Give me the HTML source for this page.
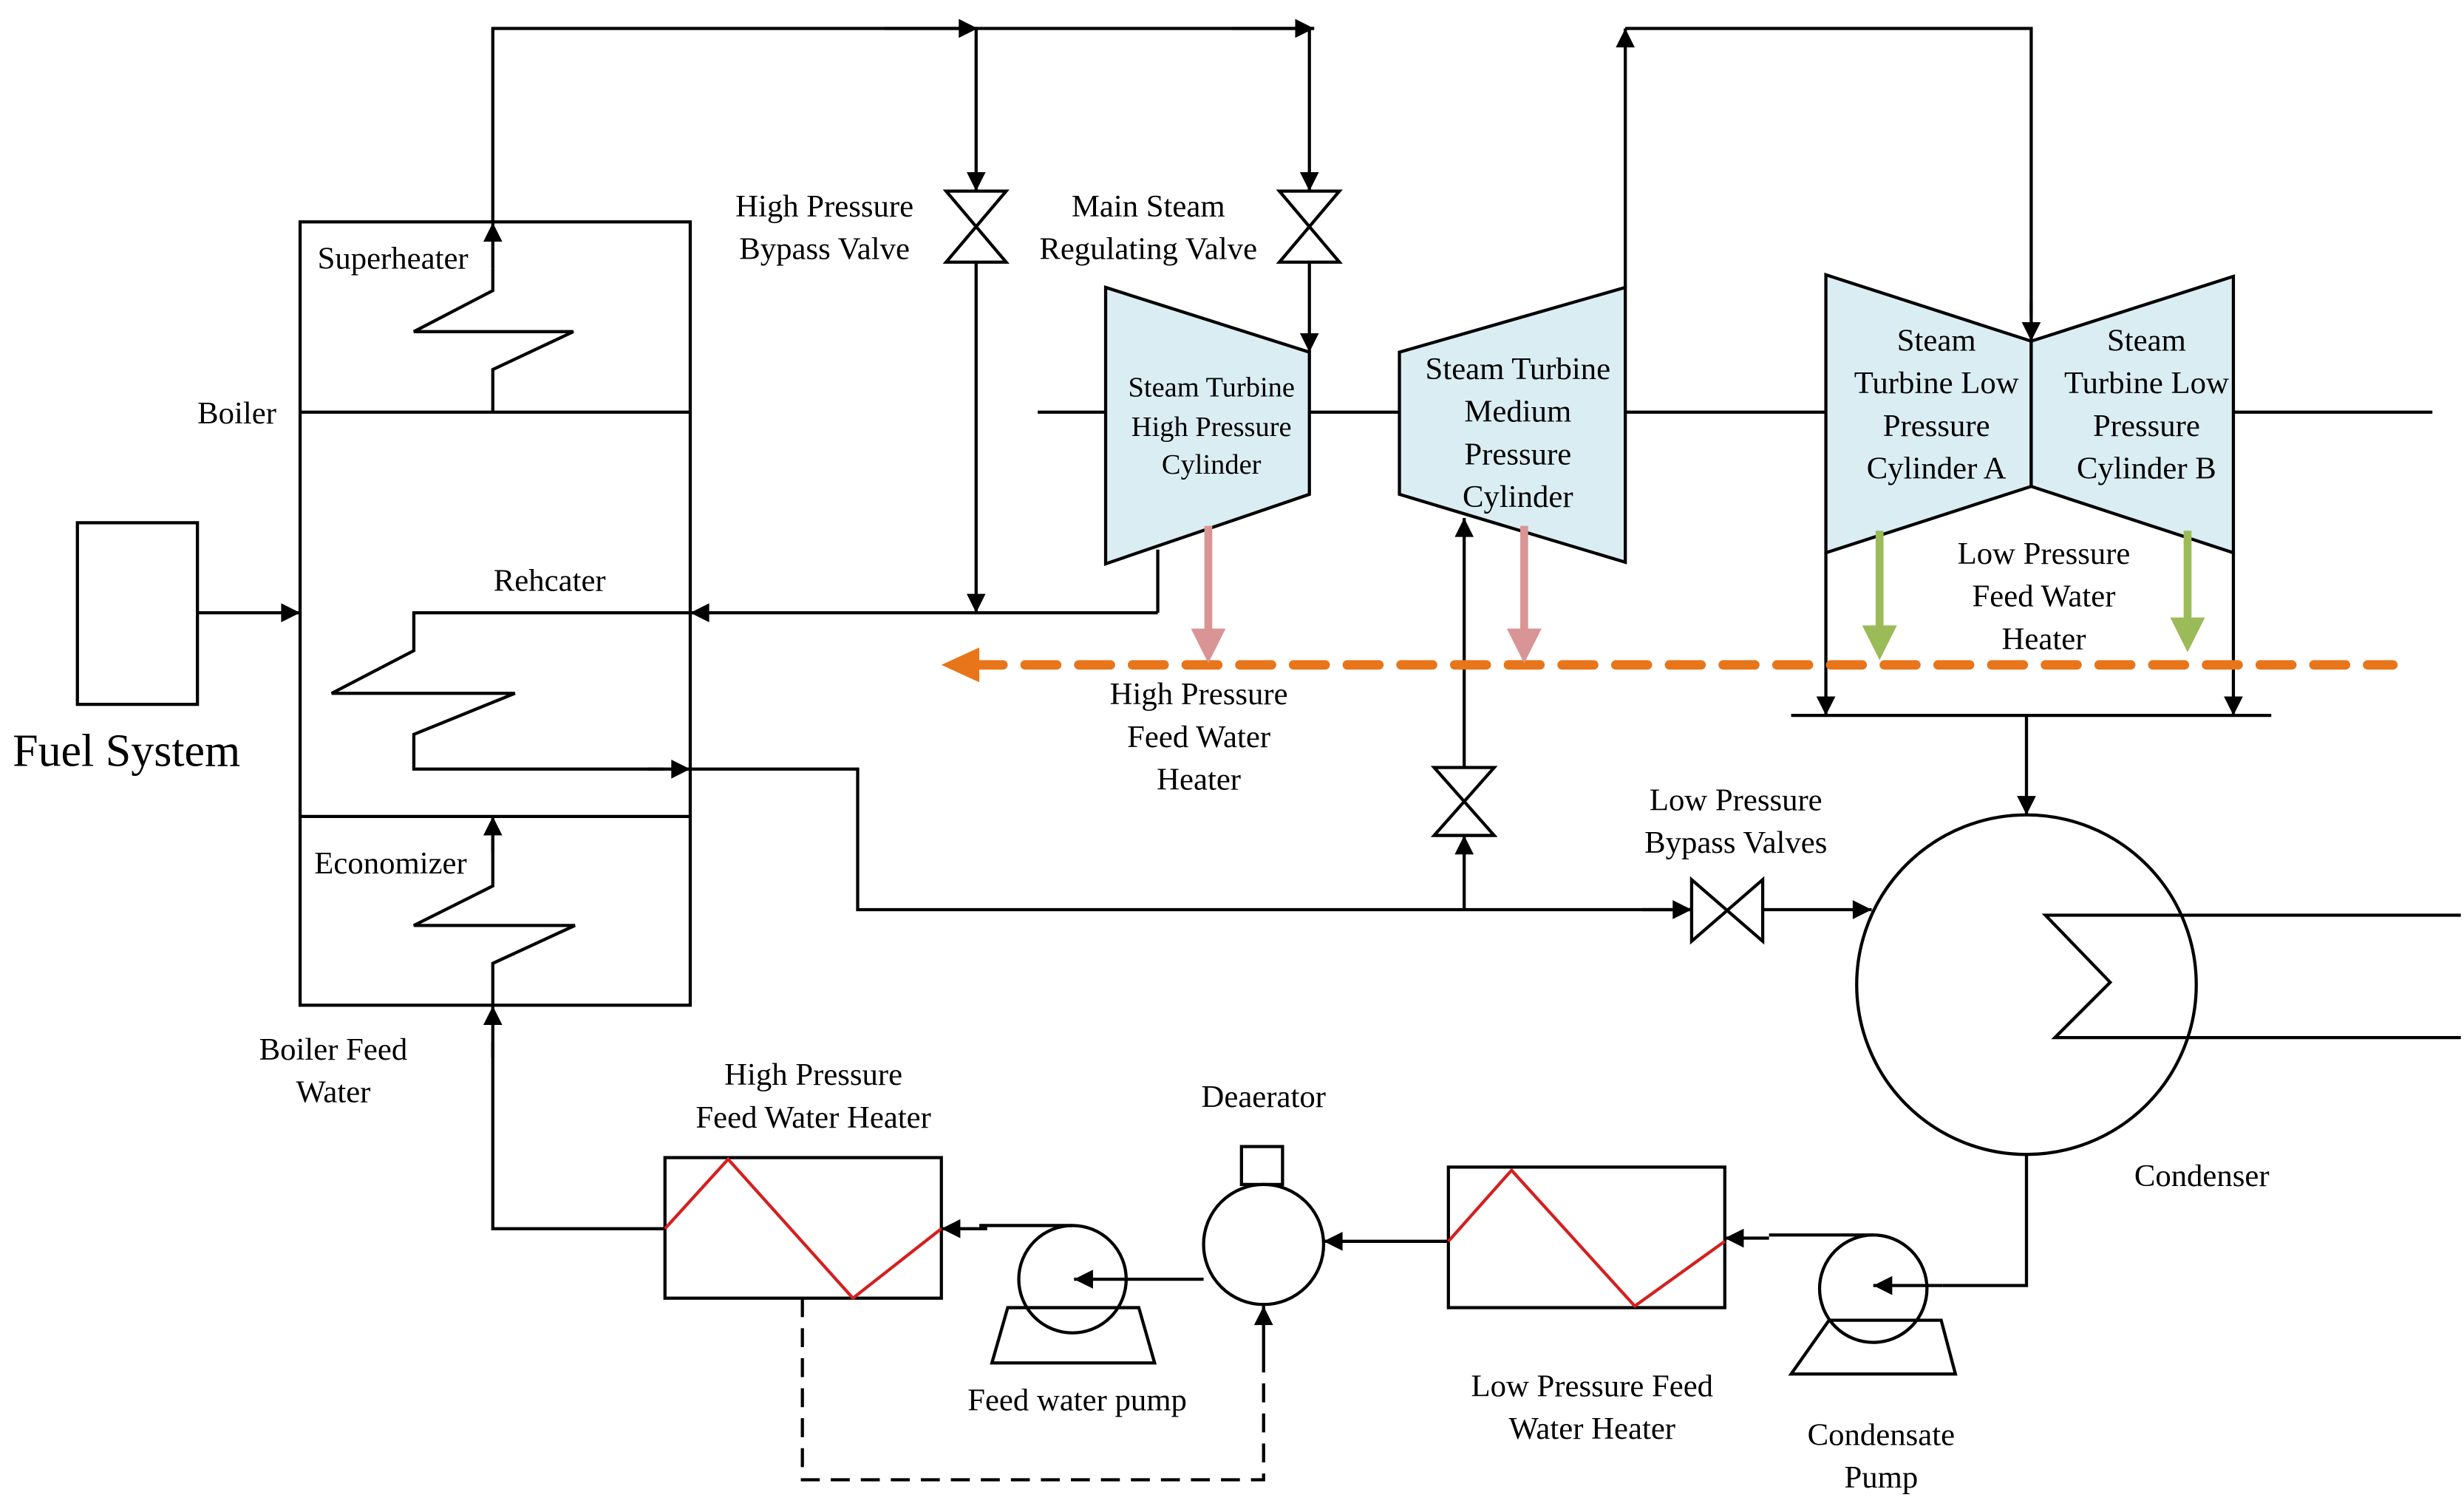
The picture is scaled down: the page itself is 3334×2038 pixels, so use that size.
<!DOCTYPE html>
<html><head><meta charset="utf-8"><style>html,body{margin:0;padding:0;background:#fff}svg{display:block}svg text{font-family:"Liberation Serif","Tinos","Times New Roman","Noto Serif CJK SC","DejaVu Serif",serif;font-size:20px}</style></head>
<body>
<svg width="3334" height="2038" viewBox="0 0 1560 953.6" xmlns="http://www.w3.org/2000/svg" fill="#000">
<defs>
<marker id="a" viewBox="0 0 10 10" refX="10" refY="5" markerWidth="14" markerHeight="12" orient="auto-start-reverse" markerUnits="userSpaceOnUse"><path d="M0,0 L10,5 L0,10 z" fill="#000"/></marker>
</defs>
<g stroke="#000" stroke-width="2" fill="none">
<polyline points="312,141 312,18 832,18"/>
<line x1="560" y1="18" x2="619" y2="18" marker-end="url(#a)"/>
<line x1="780" y1="18" x2="832" y2="18" marker-end="url(#a)"/>
<line x1="312" y1="170" x2="312" y2="141" marker-end="url(#a)"/>
<rect x="190" y="140.5" width="247" height="496"/>
<line x1="190" y1="261" x2="437" y2="261"/>
<line x1="190" y1="517" x2="437" y2="517"/>
<polyline points="312,261 312,234 363,210 262,210 312,184 312,170"/>
<polyline points="312,636 312,610 364,586 262,586 312,561 312,530"/>
<line x1="312" y1="540" x2="312" y2="517" marker-end="url(#a)"/>
<polyline points="437,388 262,388 262,412 210,439 326,439 262,465 262,487 420,487"/>
<line x1="410" y1="487" x2="437" y2="487" marker-end="url(#a)"/>
<line x1="733" y1="348" x2="733" y2="388"/>
<line x1="733" y1="388" x2="437" y2="388" marker-end="url(#a)"/>
<rect x="49" y="331" width="76" height="115"/>
<line x1="125" y1="388" x2="190" y2="388" marker-end="url(#a)"/>
<line x1="618" y1="18" x2="618" y2="121" marker-end="url(#a)"/>
<polygon points="599,121 637,121 599,166 637,166"/>
<line x1="618" y1="166" x2="618" y2="388" marker-end="url(#a)"/>
<line x1="829" y1="18" x2="829" y2="121" marker-end="url(#a)"/>
<polygon points="810,121 848,121 810,166 848,166"/>
<line x1="829" y1="166" x2="829" y2="223" marker-end="url(#a)"/>
<line x1="657" y1="261" x2="700" y2="261"/>
<line x1="829" y1="261" x2="886" y2="261"/>
<line x1="1029" y1="261" x2="1156" y2="261"/>
<line x1="1414" y1="261" x2="1540" y2="261"/>
<polygon points="700,182 829,223 829,313 700,357" fill="#daedf3"/>
<polygon points="886,223 1029,182 1029,356 886,313" fill="#daedf3"/>
<polygon points="1156,174 1286,216 1286,308 1156,350" fill="#daedf3"/>
<polygon points="1286,216 1414,175 1414,350 1286,308" fill="#daedf3"/>
<line x1="1029" y1="182" x2="1029" y2="18" marker-end="url(#a)"/>
<polyline points="1029,18 1286,18 1286,200"/>
<line x1="1286" y1="190" x2="1286" y2="216" marker-end="url(#a)"/>
<line x1="1156" y1="350" x2="1156" y2="453" marker-end="url(#a)"/>
<line x1="1414" y1="350" x2="1414" y2="453" marker-end="url(#a)"/>
<line x1="1134" y1="453" x2="1438" y2="453"/>
<line x1="1283" y1="453" x2="1283" y2="516" marker-end="url(#a)"/>
<polyline points="437,487 543,487 543,576 1071,576"/>
<line x1="1040" y1="576" x2="1071" y2="576" marker-end="url(#a)"/>
<polygon points="1071,557 1071,596 1116,557 1116,596"/>
<line x1="1116" y1="576" x2="1185" y2="576" marker-end="url(#a)"/>
<line x1="927" y1="576" x2="927" y2="529" marker-end="url(#a)"/>
<polygon points="908,486 946,486 908,529 946,529"/>
<line x1="927" y1="486" x2="927" y2="328" marker-end="url(#a)"/>
<circle cx="1283" cy="623.5" r="107.5"/>
<polyline points="1558,579.5 1295,579.5 1336,622 1301,657 1558,657"/>
<polyline points="1283,731 1283,814 1230,814"/>
<line x1="1230" y1="814" x2="1186" y2="814" marker-end="url(#a)"/>
<circle cx="1186" cy="816" r="34"/>
<polygon points="1158,836 1229,836 1238,870 1134,870"/>
<polyline points="1186,782 1120,782"/>
<line x1="1120" y1="784" x2="1092" y2="784" marker-end="url(#a)"/>
<rect x="917" y="739" width="175" height="89"/>
<line x1="917" y1="786" x2="838" y2="786" marker-end="url(#a)"/>
<circle cx="800" cy="788" r="38"/>
<rect x="786" y="726" width="26" height="24"/>
<line x1="762" y1="810" x2="680" y2="810" marker-end="url(#a)"/>
<circle cx="679" cy="810" r="34"/>
<polygon points="638,828 721,828 731,863 628,863"/>
<polyline points="679,776 620,776"/>
<line x1="625" y1="778" x2="596" y2="778" marker-end="url(#a)"/>
<rect x="421" y="733" width="175" height="89"/>
<polyline points="421,778 312,778 312,660"/>
<line x1="312" y1="670" x2="312" y2="637" marker-end="url(#a)"/>
<polyline points="508,822 508,937 800,937 800,860" stroke-dasharray="12,7"/>
<line x1="800" y1="860" x2="800" y2="827" marker-end="url(#a)"/>
</g>
<g stroke="#d42020" stroke-width="2" fill="none">
<polyline points="421,778 461,734 540,822 596,778"/>
<polyline points="917,786 957,741 1035,827 1092,786"/>
</g>
<line x1="615" y1="421" x2="1515" y2="421" stroke="#e8751a" stroke-width="6" stroke-dasharray="20,14" stroke-linecap="round"/>
<polygon points="596,421 620,410 620,432" fill="#e8751a"/>
<g stroke="#d99595" stroke-width="5"><line x1="765" y1="333" x2="765" y2="400"/><line x1="965" y1="333" x2="965" y2="400"/></g>
<polygon points="754,398 776,398 765,420" fill="#d99595"/>
<polygon points="954,398 976,398 965,420" fill="#d99595"/>
<g stroke="#9bbb59" stroke-width="5"><line x1="1190" y1="336" x2="1190" y2="398"/><line x1="1385" y1="336" x2="1385" y2="393"/></g>
<polygon points="1179,396 1201,396 1190,418" fill="#9bbb59"/>
<polygon points="1374,391 1396,391 1385,413" fill="#9bbb59"/>
<g text-anchor="middle">
<text x="522" y="137">High Pressure</text><text x="522" y="164">Bypass Valve</text>
<text x="727" y="137">Main Steam</text><text x="727" y="164">Regulating Valve</text>
<text x="767" y="251" style="font-size:18px">Steam Turbine</text><text x="767" y="276" style="font-size:18px">High Pressure</text><text x="767" y="300" style="font-size:18px">Cylinder</text>
<text x="961" y="240">Steam Turbine</text><text x="961" y="267">Medium</text><text x="961" y="294">Pressure</text><text x="961" y="321">Cylinder</text>
<text x="1226" y="222">Steam</text><text x="1226" y="249">Turbine Low</text><text x="1226" y="276">Pressure</text><text x="1226" y="303">Cylinder A</text>
<text x="1359" y="222">Steam</text><text x="1359" y="249">Turbine Low</text><text x="1359" y="276">Pressure</text><text x="1359" y="303">Cylinder B</text>
<text x="1294" y="357">Low Pressure</text><text x="1294" y="384">Feed Water</text><text x="1294" y="411">Heater</text>
<text x="759" y="446">High Pressure</text><text x="759" y="473">Feed Water</text><text x="759" y="500">Heater</text>
<text x="1099" y="513">Low Pressure</text><text x="1099" y="540">Bypass Valves</text>
<text x="211" y="671">Boiler Feed</text><text x="211" y="698">Water</text>
<text x="515" y="687">High Pressure</text><text x="515" y="714">Feed Water Heater</text>
<text x="800" y="701">Deaerator</text>
<text x="1394" y="751">Condenser</text>
<text x="682" y="893">Feed water pump</text>
<text x="1008" y="884">Low Pressure Feed</text><text x="1008" y="911">Water Heater</text>
<text x="1191" y="915">Condensate</text><text x="1191" y="942">Pump</text>
<text x="348" y="374">Rehcater</text>
</g>
<text x="201" y="170">Superheater</text>
<text x="199" y="553">Economizer</text>
<text x="175" y="268" text-anchor="end">Boiler</text>
<text x="8" y="485" style="font-size:29px">Fuel System</text>
</svg>
</body></html>
